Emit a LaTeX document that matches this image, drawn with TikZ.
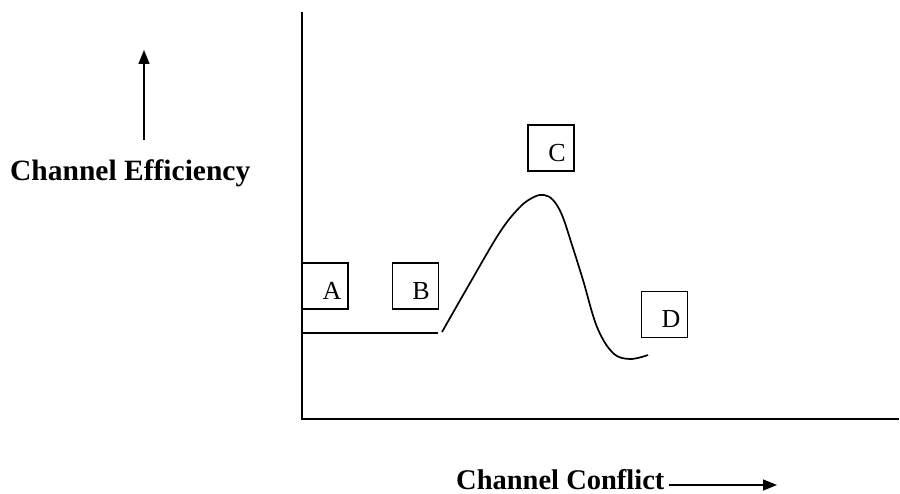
\documentclass[tikz,border=0pt]{standalone}
\usepackage{fontspec}
\setmainfont{Liberation Serif}
\usetikzlibrary{arrows.meta}
\begin{document}
\begin{tikzpicture}[x=1pt,y=-1pt,
  ln/.style={line width=1.7pt, black},
  lbox/.style={draw, line width=1.5pt, minimum width=46pt, minimum height=46pt, inner sep=0pt},
  letter/.style={font=\fontsize{26}{26}\selectfont, anchor=base, inner sep=0pt},
  axlabel/.style={font=\fontsize{29.5}{30}\selectfont\bfseries, anchor=base west, inner sep=0pt},
  tip/.style={-{Triangle[width=11pt,length=14pt]}, line width=1.5pt}]
\useasboundingbox (0,0) rectangle (900,494);
% axes
\coordinate (top) at (302,12);
\coordinate (origin) at (302,419);
\coordinate (xend) at (899,419);
\draw[ln] (top) -- (origin) -- (xend);
% boxes
\node[lbox] (boxA) at (325,286) {};
\node[letter] (txtA) at (332,300) {A};
\node[lbox] (boxB) at (415.5,286) {};
\node[letter] (txtB) at (421,300) {B};
\node[lbox] (boxC) at (551,148) {};
\node[letter] (txtC) at (557,162) {C};
\node[lbox] (boxD) at (664.5,314.5) {};
\node[letter] (txtD) at (671,328) {D};
% curve
\coordinate (flatstart) at (302,333);
\coordinate (flatend) at (438,333);
\draw[ln] (flatstart) -- (flatend);
\draw[ln] plot[smooth, tension=0.6] coordinates {(442,332) (470,283) (500,232) (520,207) (534,197) (544,195) (553,200) (562,215) (572,245) (583,280) (597,327) (613,353) (630,359) (648,355)};
% axis labels and arrows
\coordinate (upstart) at (144,140);
\coordinate (uptip) at (144,50);
\draw[tip] (upstart) -- (uptip);
\node[axlabel] (effl) at (10,181) {Channel Efficiency};
\node[axlabel, font=\fontsize{28.5}{29}\selectfont\bfseries] (confl) at (456,489) {Channel Conflict};
\coordinate (rstart) at (669,485);
\coordinate (rtip) at (777,485);
\draw[tip] (rstart) -- (rtip);
\end{tikzpicture}
\end{document}
